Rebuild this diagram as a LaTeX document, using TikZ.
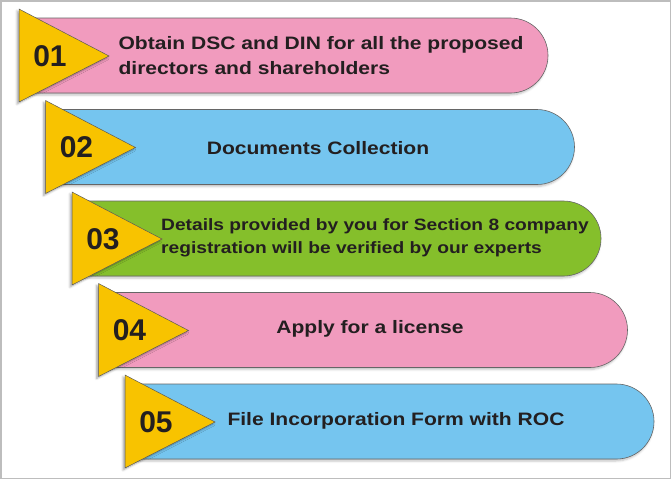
\documentclass[tikz,border=0pt]{standalone}
\usepackage{fontspec}
\setmainfont{Liberation Sans}
\newfontfamily\widefont[FakeStretch=1.17]{Liberation Sans}
\usetikzlibrary{shapes.misc,shadows.blur}
\definecolor{steppink}{HTML}{F19BBE}
\definecolor{stepblue}{HTML}{75C5EF}
\definecolor{stepgreen}{HTML}{85BF2B}
\definecolor{flagyellow}{HTML}{F8C300}
\definecolor{inkdark}{HTML}{231F20}
\definecolor{framegray}{HTML}{BDBDBD}

\begin{document}
\begin{tikzpicture}[x=1pt,y=-1pt,
  bar/.style={shape=rounded rectangle, rounded rectangle left arc=none, draw=black!60, line width=0.6pt, minimum width=515pt, minimum height=75pt, inner sep=0pt, blur shadow={shadow xshift=-1pt, shadow yshift=-2pt, shadow blur steps=4, shadow opacity=25}},
  flag/.style={fill=flagyellow, draw=black!65, line width=0.5pt, blur shadow={shadow xshift=-2pt, shadow yshift=-2pt, shadow blur steps=5, shadow opacity=35}},
  num/.style={font=\fontsize{30}{30}\selectfont\bfseries, text=inkdark},
  txt/.style={font=\widefont\fontsize{18}{25}\selectfont\bfseries, text=inkdark, align=left}]
\useasboundingbox (0,0) rectangle (672,480);
\draw[framegray, line width=1.5pt] (0.75,0.75) rectangle (670.5,478.5);
% step 1
\node[bar, fill=steppink] (bar1) at (290.5,55.5) {};
\draw[flag] (19,9) -- (109,56) -- (19,102) -- cycle;
\node[num] (n1) at (50,56) {01};
\node[txt] (t1) at (321,56) {Obtain DSC and DIN for all the proposed\\directors and shareholders};
% step 2
\node[bar, fill=stepblue] (bar2) at (317,147) {};
\draw[flag] (45.5,100.5) -- (135.5,147.5) -- (45.5,193.5) -- cycle;
\node[num] (n2) at (76.5,147.5) {02};
\node[txt] (t2) at (318,148) {Documents Collection};
% step 3
\node[bar, fill=stepgreen] (bar3) at (343.5,238.5) {};
\draw[flag] (72,192) -- (162,239) -- (72,285) -- cycle;
\node[num] (n3) at (103,239) {03};
\node[txt, font=\widefont\fontsize{16.4}{23}\selectfont\bfseries] (t3) at (375,238) {Details provided by you for Section 8 company\\registration will be verified by our experts};
% step 4
\node[bar, fill=steppink] (bar4) at (370,330) {};
\draw[flag] (98.5,283.5) -- (188.5,330.5) -- (98.5,376.5) -- cycle;
\node[num] (n4) at (129.5,330.5) {04};
\node[txt] (t4) at (370,329) {Apply for a license};
% step 5
\node[bar, fill=stepblue] (bar5) at (396.5,421.5) {};
\draw[flag] (125,375) -- (215,422) -- (125,468) -- cycle;
\node[num] (n5) at (156,422) {05};
\node[txt] (t5) at (396,421) {File Incorporation Form with ROC};
\end{tikzpicture}
\end{document}
